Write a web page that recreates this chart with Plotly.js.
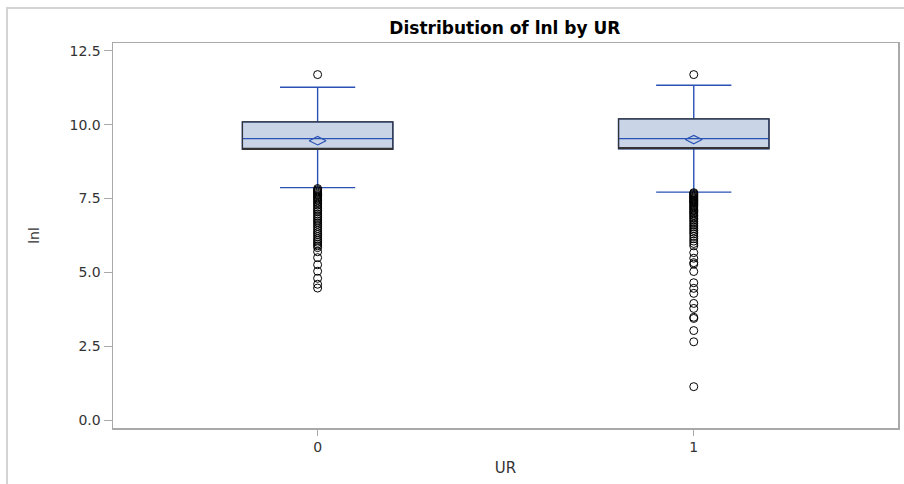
<!DOCTYPE html>
<html>
<head>
<meta charset="utf-8">
<script src="https://cdn.plot.ly/plotly-3.0.1.min.js"></script>
<style>
  html, body { margin: 0; padding: 0; background: #fff; }
  #wrap { position: relative; width: 904px; height: 484px; overflow: hidden; }
  #chart { position: absolute; left: 0; top: 0; width: 904px; height: 484px; }
  #frame { position: absolute; left: 6px; top: 7px; width: 910px; height: 490px;
           border-left: 2px solid #d4d4d4; border-top: 2px solid #d4d4d4; pointer-events: none; }
</style>
</head>
<body>
<div id="wrap">
  <div id="chart"></div>
  <div id="frame"></div>
</div>
<script>
// ---- data ----
const groups      = [0, 1];
const groupLabels = ['0', '1'];
const q1          = [9.17, 9.19];
const median      = [9.53, 9.53];
const q3          = [10.10, 10.20];
const lowerFence  = [7.87, 7.72];
const upperFence  = [11.27, 11.34];
const means       = [9.46, 9.50];

const outliers0 = [11.70,
  7.84, 7.80, 7.76, 7.72, 7.68, 7.64, 7.60, 7.56, 7.52, 7.48, 7.43, 7.38, 7.33,
  7.28, 7.22, 7.16, 7.10, 7.05, 6.98, 6.92, 6.86, 6.80, 6.74, 6.68, 6.62, 6.55,
  6.48, 6.41, 6.34, 6.28, 6.21, 6.14, 6.08, 6.02, 5.96, 5.90, 5.84, 5.70, 5.50,
  5.26, 5.04, 4.80, 4.60, 4.47];
const outliers1 = [11.70,
  7.70, 7.67, 7.64, 7.61, 7.58, 7.55, 7.52, 7.49, 7.46, 7.43, 7.40, 7.37, 7.34,
  7.30, 7.26, 7.22, 7.18, 7.14, 7.10, 7.06, 7.02, 6.98, 6.93, 6.88, 6.83, 6.78,
  6.72, 6.66, 6.60, 6.54, 6.48, 6.42, 6.36, 6.30, 6.22, 6.14, 6.06, 5.98, 5.90,
  5.67, 5.48, 5.33, 5.28, 5.03, 4.65, 4.46, 4.29, 3.95, 3.78, 3.48, 3.44, 3.03,
  2.65, 1.13];

const yTicks = [0, 2.5, 5, 7.5, 10, 12.5];

// ---- styling ----
const blue = '#2a52b4';
const fill = '#c9d4e6';
const dark = '#333333';
const axisGrey = '#a9a9a9';
const font = 'DejaVu Sans, Arial, sans-serif';

const traces = [
  { // filled box with blue whiskers / median
    type: 'box', x: groups, q1: q1, median: median, q3: q3,
    lowerfence: lowerFence, upperfence: upperFence,
    width: 0.4, whiskerwidth: 0.5, boxpoints: false,
    fillcolor: fill, line: { color: blue, width: 1.4 },
    hoverinfo: 'skip', showlegend: false
  },
  { // dark box outline
    type: 'box', x: groups, q1: q1, median: q1, q3: q3,
    lowerfence: q1, upperfence: q3,
    width: 0.4, whiskerwidth: 0, boxpoints: false,
    fillcolor: 'rgba(0,0,0,0)', line: { color: dark, width: 1.2 },
    hoverinfo: 'skip', showlegend: false
  },
  { // means
    type: 'scatter', mode: 'markers', x: groups, y: means,
    marker: { symbol: 'diamond-wide-open', size: 12, color: blue, line: { color: blue, width: 1.2 } },
    hoverinfo: 'skip', showlegend: false
  },
  { // outliers group 0
    type: 'scatter', mode: 'markers', x: outliers0.map(() => groups[0]), y: outliers0,
    marker: { symbol: 'circle-open', size: 8, color: '#000', line: { color: '#000', width: 1 } },
    hoverinfo: 'skip', showlegend: false
  },
  { // outliers group 1
    type: 'scatter', mode: 'markers', x: outliers1.map(() => groups[1]), y: outliers1,
    marker: { symbol: 'circle-open', size: 8, color: '#000', line: { color: '#000', width: 1 } },
    hoverinfo: 'skip', showlegend: false
  }
];

const layout = {
  width: 904, height: 484,
  margin: { l: 113, r: 6, t: 43, b: 56, pad: 0 },
  paper_bgcolor: 'rgba(0,0,0,0)', plot_bgcolor: '#fff',
  boxmode: 'overlay',
  showlegend: false,
  hovermode: false,
  title: { text: '<b>Distribution of lnl by UR</b>', x: 0.5585, xanchor: 'center', y: 0.942, yanchor: 'middle',
           font: { family: font, size: 17, color: '#000' } },
  xaxis: {
    range: [-0.544, 1.543], tickmode: 'array', tickvals: groups, ticktext: groupLabels,
    showline: true, mirror: true, linecolor: axisGrey, linewidth: 1.5,
    ticks: 'outside', ticklen: 6, tickcolor: axisGrey, tickwidth: 1,
    showgrid: false, zeroline: false,
    tickfont: { family: font, size: 14, color: '#333' },
    title: { text: 'UR', standoff: 8, font: { family: font, size: 15, color: '#333' } }
  },
  yaxis: {
    range: [-0.27, 12.77], tickmode: 'array', tickvals: yTicks,
    ticktext: yTicks.map(v => v.toFixed(1)),
    showline: true, mirror: true, linecolor: axisGrey, linewidth: 1.5,
    ticks: 'outside', ticklen: 8, tickcolor: axisGrey, tickwidth: 1,
    showgrid: false, zeroline: false,
    tickfont: { family: font, size: 14, color: '#333' },
    title: { text: 'lnl', standoff: 26, font: { family: font, size: 14, color: '#333' } }
  }
};

Plotly.newPlot('chart', traces, layout, { displayModeBar: false, staticPlot: true });
</script>
</body>
</html>
